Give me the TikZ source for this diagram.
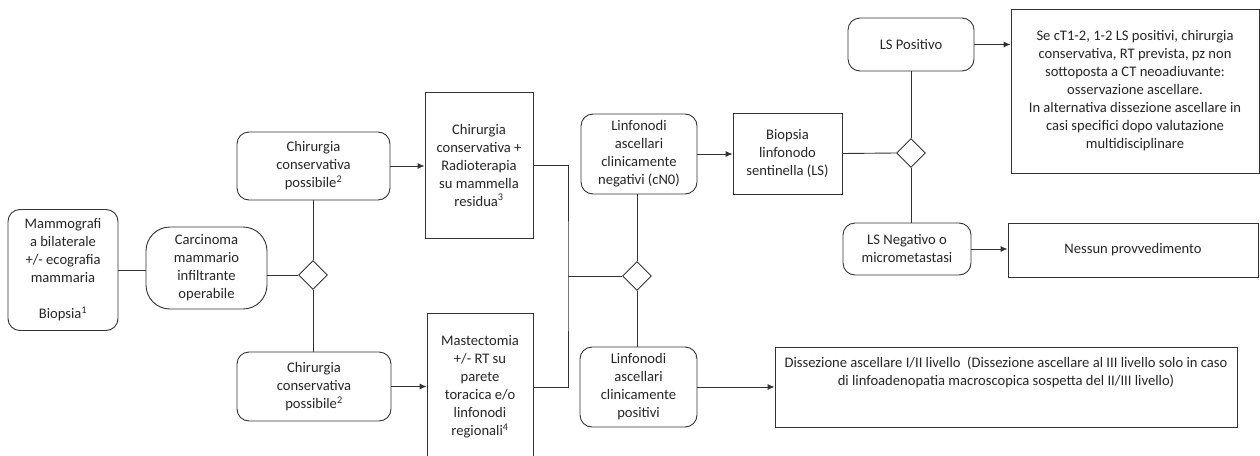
\documentclass[tikz,border=0pt]{standalone}
\usepackage{fontspec}
\setmainfont{Carlito}
\usetikzlibrary{arrows.meta,shapes.geometric}
\begin{document}
\begin{tikzpicture}[x=1pt,y=-1pt,
  every node/.style={font=\fontsize{14.6}{18}\selectfont, align=center, inner sep=0pt, text=black!85},
  rbox/.style={draw=black!80, line width=0.9pt, rounded corners=12pt},
  sbox/.style={draw=black!80, line width=0.9pt},
  dec/.style={draw=black!80, line width=0.9pt, diamond, minimum width=29pt, minimum height=29pt},
  conn/.style={draw=black!80, line width=0.9pt},
  arr/.style={conn, -{Latex[length=7pt,width=6pt]}}
]
\useasboundingbox (0,0) rectangle (1260,455);

\node[rbox, minimum width=110pt, minimum height=121pt] (A) at (63,270)
  {Mammografi\\a bilaterale\\+/- ecografia\\mammaria\\[18pt]Biopsia\textsuperscript{1}};
\node[rbox, rounded corners=24pt, minimum width=121pt, minimum height=82pt] (B) at (206.5,268)
  {Carcinoma\\mammario\\infiltrante\\operabile};
\node[dec] (D1) at (313,275) {};
\node[rbox, minimum width=153pt, minimum height=68pt] (C1) at (313.5,166)
  {Chirurgia\\conservativa\\possibile\textsuperscript{2}};
\node[rbox, minimum width=154pt, minimum height=69pt] (C2) at (314,386.5)
  {Chirurgia\\conservativa\\possibile\textsuperscript{2}};
\node[sbox, minimum width=108pt, minimum height=146pt] (R) at (479,165)
  {Chirurgia\\conservativa +\\Radioterapia\\su mammella\\residua\textsuperscript{3}};
\node[sbox, minimum width=106pt, minimum height=148pt] (M) at (480,387)
  {Mastectomia\\+/- RT su\\parete\\toracica e/o\\linfonodi\\regionali\textsuperscript{4}};
\coordinate (J) at (568,276);
\node[dec] (D2) at (637,276) {};
\node[rbox, minimum width=116pt, minimum height=80pt] (L1) at (639,154)
  {Linfonodi\\ascellari\\clinicamente\\negativi (cN0)};
\node[rbox, minimum width=117pt, minimum height=80pt] (L2) at (638.5,387)
  {Linfonodi\\ascellari\\clinicamente\\positivi};
\node[sbox, minimum width=109pt, minimum height=81pt] (Bio) at (787.5,153.5)
  {Biopsia\\linfonodo\\sentinella (LS)};
\node[dec] (D3) at (911,153) {};
\node[rbox, minimum width=126pt, minimum height=53pt] (LSP) at (911,44.5) {LS Positivo};
\node[rbox, minimum width=128pt, minimum height=52pt] (LSN) at (907,249)
  {LS Negativo o\\micrometastasi};
\node[sbox, minimum width=248pt, minimum height=164pt] (Se) at (1135,91)
  {Se cT1-2, 1-2 LS positivi, chirurgia\\conservativa, RT prevista, pz non\\sottoposta a CT neoadiuvante:\\osservazione ascellare.\\In alternativa dissezione ascellare in\\casi specifici dopo valutazione\\multidisciplinare};
\node[sbox, minimum width=250pt, minimum height=54pt] (N) at (1133,250) {Nessun provvedimento};
\node[sbox, minimum width=462pt, minimum height=80pt] (Diss) at (1006,387) {};
\node (DissT) at (1006,372)
  {Dissezione ascellare I/II livello\ \ (Dissezione ascellare al III livello solo in caso\\di linfoadenopatia macroscopica sospetta del II/III livello)};

\draw[conn] (A.east) -- (A.east -| B.west);
\draw[conn] (B.east |- D1.west) -- (D1.west);
\draw[conn] (D1.north) -- (D1.north |- C1.south);
\draw[conn] (D1.south) -- (D1.south |- C2.north);
\draw[arr] (C1.east) -- (C1.east -| R.west);
\draw[arr] (C2.east) -- (C2.east -| M.west);
\draw[conn] (R.east) -| (J) |- (M.east);
\draw[conn] (J) -- (D2.west);
\draw[conn] (D2.north) -- (D2.north |- L1.south);
\draw[conn] (D2.south) -- (D2.south |- L2.north);
\draw[arr] (L1.east) -- (L1.east -| Bio.west);
\draw[arr] (L2.east) -- (L2.east -| Diss.west);
\draw[conn] (Bio.east) -- (D3.west);
\draw[conn] (D3.north) -- (D3.north |- LSP.south);
\draw[conn] (D3.south) -- (D3.south |- LSN.north);
\draw[arr] (LSP.east) -- (LSP.east -| Se.west);
\draw[arr] (LSN.east) -- (LSN.east -| N.west);
\end{tikzpicture}
\end{document}
